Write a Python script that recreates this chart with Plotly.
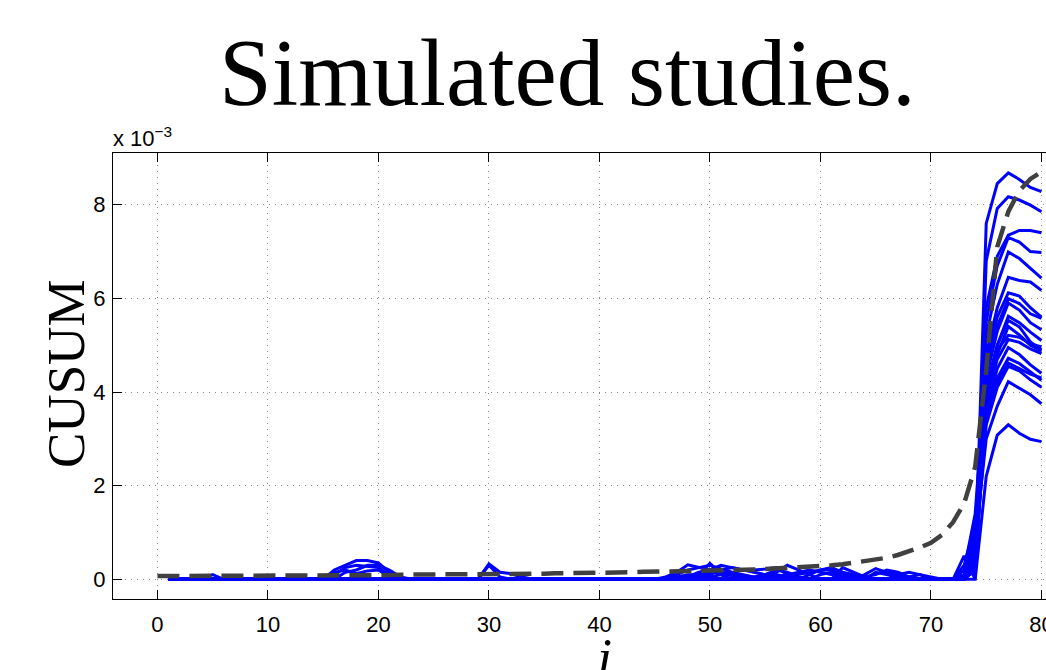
import plotly.graph_objects as go

# ---------------- data (values in units of 1e-3) ----------------
j_mean = list(range(0, 81))
cusum_mean = [
    0.07, 0.07, 0.07, 0.07, 0.07, 0.08, 0.08, 0.08, 0.08, 0.08,
    0.08, 0.08, 0.08, 0.09, 0.09, 0.09, 0.09, 0.09, 0.09, 0.09,
    0.09, 0.09, 0.10, 0.10, 0.10, 0.10, 0.10, 0.11, 0.11, 0.11,
    0.11, 0.11, 0.12, 0.12, 0.12, 0.12, 0.13, 0.13, 0.13, 0.14,
    0.14, 0.15, 0.15, 0.15, 0.16, 0.16, 0.17, 0.17, 0.18, 0.18,
    0.19, 0.19, 0.20, 0.20, 0.21, 0.22, 0.23, 0.24, 0.26, 0.27,
    0.28, 0.30, 0.32, 0.35, 0.38, 0.42, 0.46, 0.52, 0.59, 0.68,
    0.78, 0.95, 1.22, 1.62, 2.40, 4.46, 7.10, 7.85, 8.30, 8.55,
    8.70,
]

j_sim = list(range(1, 81))
sim_A = [0, 0, 0, 0, 0, 0, 0, 0, 0, 0,
         0, 0, 0, 0, 0, 0.2, 0.3, 0.4, 0.4, 0.35,
         0.15, 0, 0, 0, 0, 0, 0, 0, 0, 0,
         0, 0, 0, 0, 0, 0, 0, 0, 0, 0,
         0, 0, 0, 0, 0, 0, 0.1, 0.2, 0.25, 0.3,
         0.22, 0.15, 0.1, 0.05, 0, 0, 0, 0, 0, 0,
         0, 0, 0, 0, 0, 0, 0, 0, 0, 0,
         0, 0, 0, 0.3, 7.6, 8.45, 8.68, 8.54, 8.37, 8.28]
sim_B = [0, 0, 0, 0, 0, 0, 0, 0, 0, 0,
         0, 0, 0, 0, 0, 0.1, 0.25, 0.3, 0.28, 0.25,
         0.1, 0, 0, 0, 0, 0, 0, 0, 0, 0,
         0, 0, 0, 0, 0, 0, 0, 0, 0, 0,
         0, 0, 0, 0, 0, 0, 0, 0.05, 0.15, 0.2,
         0.3, 0.25, 0.2, 0.15, 0.1, 0.15, 0.3, 0.2, 0.1, 0,
         0, 0, 0, 0, 0, 0, 0, 0, 0, 0,
         0, 0, 0, 0.2, 6.8, 7.92, 8.17, 8.10, 7.99, 7.85]
sim_C = [0, 0, 0, 0, 0, 0, 0, 0, 0, 0,
         0, 0, 0, 0, 0, 0, 0.15, 0.2, 0.3, 0.3,
         0.2, 0.05, 0, 0, 0, 0, 0, 0, 0, 0,
         0, 0, 0, 0, 0, 0, 0, 0, 0, 0,
         0, 0, 0, 0, 0, 0, 0.05, 0.1, 0.1, 0.15,
         0.12, 0.1, 0.05, 0, 0, 0, 0, 0, 0.1, 0.2,
         0.25, 0.15, 0.05, 0, 0, 0, 0, 0, 0, 0,
         0, 0, 0.1, 0.8, 5.8, 6.9, 7.35, 7.45, 7.45, 7.40]
sim_D = [0, 0, 0, 0, 0, 0, 0, 0, 0, 0,
         0, 0, 0, 0, 0, 0.15, 0.2, 0.12, 0.18, 0.2,
         0.05, 0, 0, 0, 0, 0, 0, 0, 0, 0,
         0, 0, 0, 0, 0, 0, 0, 0, 0, 0,
         0, 0, 0, 0, 0, 0, 0, 0, 0, 0,
         0, 0, 0, 0.05, 0.1, 0.2, 0.15, 0.05, 0, 0,
         0, 0, 0, 0.1, 0.23, 0.15, 0.1, 0.05, 0, 0,
         0, 0, 0, 0.5, 5.5, 6.7, 7.30, 7.20, 7.00, 6.98]
sim_E = [0, 0, 0, 0, 0, 0, 0, 0, 0, 0,
         0, 0, 0, 0, 0, 0, 0, 0, 0, 0,
         0, 0, 0, 0, 0, 0, 0, 0, 0, 0.33,
         0.15, 0.12, 0.05, 0, 0, 0, 0, 0, 0, 0,
         0, 0, 0, 0, 0, 0, 0, 0, 0, 0,
         0, 0, 0, 0, 0, 0, 0, 0, 0, 0,
         0, 0, 0, 0, 0, 0, 0, 0, 0, 0,
         0, 0, 0, 1.0, 5.2, 6.3, 6.99, 6.85, 6.64, 6.43]
sim_F = [0, 0, 0, 0, 0, 0, 0, 0, 0, 0,
         0, 0, 0, 0, 0, 0, 0, 0, 0, 0,
         0, 0, 0, 0, 0, 0, 0, 0, 0, 0.3,
         0.05, 0, 0, 0, 0, 0, 0, 0, 0, 0,
         0, 0, 0, 0, 0, 0, 0, 0, 0.1, 0.34,
         0.1, 0, 0, 0, 0, 0, 0, 0, 0, 0,
         0, 0, 0, 0, 0, 0, 0, 0, 0, 0,
         0, 0, 0, 0.4, 4.8, 5.8, 6.45, 6.38, 6.35, 6.17]
sim_G = [0, 0, 0, 0, 0, 0, 0, 0, 0, 0,
         0, 0, 0, 0, 0, 0, 0, 0, 0, 0,
         0, 0, 0, 0, 0, 0, 0, 0, 0, 0,
         0, 0, 0, 0, 0, 0, 0, 0, 0, 0,
         0, 0, 0, 0, 0, 0.05, 0.15, 0.31, 0.25, 0.2,
         0.15, 0.1, 0.05, 0, 0, 0, 0, 0, 0, 0,
         0, 0.1, 0.05, 0, 0, 0, 0, 0, 0, 0,
         0, 0, 0.2, 1.4, 4.6, 5.6, 6.12, 6.05, 5.80, 5.60]
sim_H = [0, 0, 0, 0, 0.1, 0, 0, 0, 0, 0,
         0, 0, 0, 0, 0, 0, 0, 0, 0, 0,
         0, 0, 0, 0, 0, 0, 0, 0, 0, 0,
         0, 0, 0, 0, 0, 0, 0, 0, 0, 0,
         0, 0, 0, 0, 0, 0, 0, 0, 0, 0,
         0, 0, 0, 0, 0, 0.05, 0.1, 0.15, 0.2, 0.15,
         0.1, 0.05, 0, 0, 0, 0, 0, 0, 0, 0,
         0, 0, 0, 0.6, 4.4, 5.4, 5.99, 5.89, 5.67, 5.57]
sim_I = [0, 0, 0, 0, 0, 0, 0, 0, 0, 0,
         0, 0, 0, 0, 0, 0, 0, 0, 0, 0,
         0, 0, 0, 0, 0, 0, 0, 0, 0, 0,
         0, 0, 0, 0, 0, 0, 0, 0, 0, 0,
         0, 0, 0, 0, 0, 0, 0, 0, 0.05, 0.1,
         0.2, 0.25, 0.2, 0.2, 0.22, 0.25, 0.1, 0, 0, 0,
         0, 0, 0, 0, 0, 0, 0, 0, 0, 0,
         0, 0, 0, 0.3, 4.3, 5.3, 5.90, 5.75, 5.48, 5.33]
sim_J = [0, 0, 0, 0, 0, 0, 0, 0, 0, 0,
         0, 0, 0, 0, 0, 0, 0, 0, 0, 0,
         0, 0, 0, 0, 0, 0, 0, 0, 0, 0,
         0, 0, 0, 0, 0, 0, 0, 0, 0, 0,
         0, 0, 0, 0, 0, 0, 0, 0, 0, 0,
         0, 0, 0, 0, 0, 0, 0, 0, 0, 0,
         0, 0.25, 0.15, 0.05, 0.1, 0.2, 0.15, 0.05, 0, 0,
         0, 0, 0, 0.9, 4.0, 5.0, 5.53, 5.39, 5.07, 4.90]
sim_K = [0, 0, 0, 0, 0, 0, 0, 0, 0, 0,
         0, 0, 0, 0, 0, 0, 0, 0, 0, 0,
         0, 0, 0, 0, 0, 0, 0, 0, 0, 0,
         0, 0, 0, 0, 0, 0, 0, 0, 0, 0,
         0, 0, 0, 0, 0, 0, 0, 0, 0, 0,
         0, 0, 0, 0, 0.05, 0.1, 0.05, 0, 0, 0.1,
         0.15, 0.1, 0, 0, 0, 0, 0.1, 0.15, 0.1, 0.05,
         0, 0, 0.3, 1.2, 3.9, 4.8, 5.40, 5.22, 5.00, 4.88]
sim_L = [0, 0, 0, 0, 0, 0, 0, 0, 0, 0,
         0, 0, 0, 0, 0, 0, 0, 0, 0, 0,
         0, 0, 0, 0, 0, 0, 0, 0, 0, 0,
         0, 0, 0, 0, 0, 0, 0, 0, 0, 0,
         0, 0, 0, 0, 0, 0, 0, 0, 0, 0,
         0, 0, 0, 0, 0, 0, 0, 0, 0, 0,
         0, 0, 0, 0, 0, 0, 0, 0, 0, 0,
         0, 0, 0, 0.2, 4.0, 4.9, 5.21, 5.17, 5.03, 4.96]
sim_M = [0, 0, 0, 0, 0, 0, 0, 0, 0, 0,
         0, 0, 0, 0, 0, 0, 0, 0, 0, 0,
         0, 0, 0, 0, 0, 0, 0, 0, 0, 0,
         0, 0, 0, 0, 0, 0, 0, 0, 0, 0,
         0, 0, 0, 0, 0, 0, 0, 0, 0, 0.05,
         0.1, 0.08, 0.05, 0, 0, 0, 0, 0, 0, 0,
         0, 0, 0, 0, 0, 0, 0, 0, 0, 0,
         0, 0, 0, 0.7, 3.8, 4.7, 5.12, 5.06, 4.92, 4.82]
sim_N = [0, 0, 0, 0, 0, 0, 0, 0, 0, 0,
         0, 0, 0, 0, 0, 0, 0, 0, 0, 0,
         0, 0, 0, 0, 0, 0, 0, 0, 0, 0,
         0, 0, 0, 0, 0, 0, 0, 0, 0, 0,
         0, 0, 0, 0, 0, 0, 0, 0, 0, 0,
         0, 0, 0, 0, 0, 0, 0, 0, 0, 0,
         0, 0, 0, 0, 0.15, 0.1, 0.05, 0, 0, 0,
         0, 0, 0, 0.4, 3.5, 4.3, 4.72, 4.61, 4.43, 4.25]
sim_O = [0, 0, 0, 0, 0, 0, 0, 0, 0, 0,
         0, 0, 0, 0, 0, 0, 0, 0, 0, 0,
         0, 0, 0, 0, 0, 0, 0, 0, 0, 0,
         0, 0, 0, 0, 0, 0, 0, 0, 0, 0,
         0, 0, 0, 0, 0, 0, 0, 0, 0, 0,
         0, 0, 0, 0, 0, 0, 0, 0.1, 0.15, 0.2,
         0.2, 0.15, 0.1, 0.05, 0, 0, 0, 0, 0, 0,
         0, 0, 0, 1.1, 3.4, 4.2, 4.62, 4.50, 4.38, 4.30]
sim_P = [0, 0, 0, 0, 0, 0, 0, 0, 0, 0,
         0, 0, 0, 0, 0, 0, 0, 0, 0, 0,
         0, 0, 0, 0, 0, 0, 0, 0, 0, 0,
         0, 0, 0, 0, 0, 0, 0, 0, 0, 0,
         0, 0, 0, 0, 0, 0, 0, 0, 0, 0,
         0, 0, 0, 0, 0, 0, 0, 0, 0, 0,
         0, 0, 0, 0, 0, 0, 0, 0, 0, 0,
         0, 0, 0, 0.5, 3.3, 4.1, 4.55, 4.45, 4.26, 4.10]
sim_Q = [0, 0, 0, 0, 0, 0, 0, 0, 0, 0,
         0, 0, 0, 0, 0, 0, 0, 0, 0, 0,
         0, 0, 0, 0, 0, 0, 0, 0, 0, 0,
         0, 0, 0, 0, 0, 0, 0, 0, 0, 0,
         0, 0, 0, 0, 0, 0, 0, 0.05, 0.1, 0.05,
         0, 0, 0, 0, 0, 0, 0, 0, 0, 0,
         0, 0, 0, 0, 0, 0, 0, 0, 0, 0,
         0, 0, 0.1, 0.8, 3.0, 3.7, 4.22, 4.08, 3.94, 3.75]
sim_R = [0, 0, 0, 0, 0, 0, 0, 0, 0, 0,
         0, 0, 0, 0, 0, 0, 0, 0, 0, 0,
         0, 0, 0, 0, 0, 0, 0, 0, 0, 0,
         0, 0, 0, 0, 0, 0, 0, 0, 0, 0,
         0, 0, 0, 0, 0, 0, 0, 0, 0, 0,
         0, 0, 0, 0, 0, 0, 0, 0, 0, 0,
         0, 0, 0, 0, 0, 0, 0, 0, 0, 0,
         0, 0, 0.5, 0, 2.2, 3.08, 3.30, 3.12, 2.99, 2.94]
sim_S = [0, 0, 0, 0, 0, 0, 0, 0, 0, 0,
         0, 0, 0, 0, 0, 0, 0, 0, 0, 0,
         0, 0, 0, 0, 0, 0, 0, 0, 0, 0,
         0, 0, 0, 0, 0, 0, 0, 0, 0, 0,
         0, 0, 0, 0, 0, 0, 0, 0, 0, 0,
         0, 0, 0, 0, 0, 0, 0, 0, 0, 0,
         0, 0, 0, 0, 0, 0, 0, 0.05, 0.1, 0,
         0, 0, 0, 0, 4.1, 5.0, 5.62, 5.48, 5.28, 5.10]
sim_T = [0, 0, 0, 0, 0, 0, 0, 0, 0, 0,
         0, 0, 0, 0, 0, 0, 0, 0, 0, 0,
         0, 0, 0, 0, 0, 0, 0, 0, 0, 0,
         0, 0, 0, 0, 0, 0, 0, 0, 0, 0,
         0, 0, 0, 0, 0, 0, 0, 0, 0, 0,
         0, 0, 0, 0, 0, 0, 0, 0, 0, 0,
         0, 0, 0, 0, 0, 0, 0, 0, 0, 0,
         0, 0, 0, 0.6, 3.6, 4.5, 4.95, 4.80, 4.58, 4.40]

simulations = [sim_A, sim_B, sim_C, sim_D, sim_E, sim_F, sim_G, sim_H, sim_I, sim_J,
               sim_K, sim_L, sim_M, sim_N, sim_O, sim_P, sim_Q, sim_R, sim_S, sim_T]

x_ticks = [0, 10, 20, 30, 40, 50, 60, 70, 80]
y_ticks = [0, 2, 4, 6, 8]

title_text = "Simulated studies."
ylabel_text = "CUSUM"
xlabel_text = "<i>j</i>"
exponent_text = "x 10<sup>\u22123</sup>"

# ---------------- figure ----------------
W, H = 1046, 670
ML, MR, MT, MB = 113, 0, 153, 71

fig = go.Figure()
for s in simulations:
    fig.add_trace(go.Scatter(x=j_sim, y=s, mode="lines",
                             line=dict(color="#0000FF", width=3),
                             hoverinfo="skip", showlegend=False))
fig.add_trace(go.Scatter(x=j_mean, y=cusum_mean, mode="lines",
                         line=dict(color="#404040", width=4.5, dash="22px,10px"),
                         hoverinfo="skip", showlegend=False))

serif = "Liberation Serif, Times New Roman, serif"
sans = "Liberation Sans, Arial, sans-serif"

axis_common = dict(
    showline=True, linecolor="black", linewidth=1,
    ticks="inside", ticklen=9, tickcolor="black", tickwidth=1,
    showgrid=True, gridcolor="#8c8c8c", gridwidth=1, griddash="1px,5px",
    zeroline=False, tickfont=dict(family=sans, size=22, color="black"),
    ticklabeloverflow="allow",
)

fig.update_layout(
    width=W, height=H,
    margin=dict(l=ML, r=MR, t=MT, b=MB, autoexpand=False),
    paper_bgcolor="white", plot_bgcolor="white",
    xaxis=dict(range=[-4.02, 80.41], tickvals=x_ticks, mirror="ticks",
               ticklabelstandoff=6, **axis_common),
    yaxis=dict(range=[-0.42, 9.104], tickvals=y_ticks, mirror=False,
               ticklabelstandoff=2, **axis_common),
    showlegend=False,
)

fig.add_annotation(text=title_text, xref="paper", yref="paper",
                   x=(567 - ML) / (W - ML - MR), y=1 + (MT - 73) / (H - MT - MB),
                   xanchor="center", yanchor="middle", showarrow=False,
                   font=dict(family=serif, size=95, color="black"))
fig.add_annotation(text=ylabel_text, xref="paper", yref="paper",
                   x=(66 - ML) / (W - ML - MR), y=1 - (374 - MT) / (H - MT - MB),
                   xanchor="center", yanchor="middle", textangle=-90, showarrow=False,
                   font=dict(family=serif, size=53, color="black"))
fig.add_annotation(text=xlabel_text, xref="paper", yref="paper",
                   x=(601 - ML) / (W - ML - MR), y=1 - (657 - MT) / (H - MT - MB),
                   xanchor="center", yanchor="middle", showarrow=False,
                   font=dict(family=serif, size=53, color="black"))
fig.add_annotation(text=exponent_text, xref="paper", yref="paper",
                   x=(111 - ML) / (W - ML - MR), y=1 + (MT - 137) / (H - MT - MB),
                   xanchor="left", yanchor="middle", showarrow=False,
                   font=dict(family=sans, size=22, color="black"))

fig.write_html("out.html", config={"displayModeBar": False},
               post_script="document.body.style.margin='0';document.body.style.overflow='hidden';")
